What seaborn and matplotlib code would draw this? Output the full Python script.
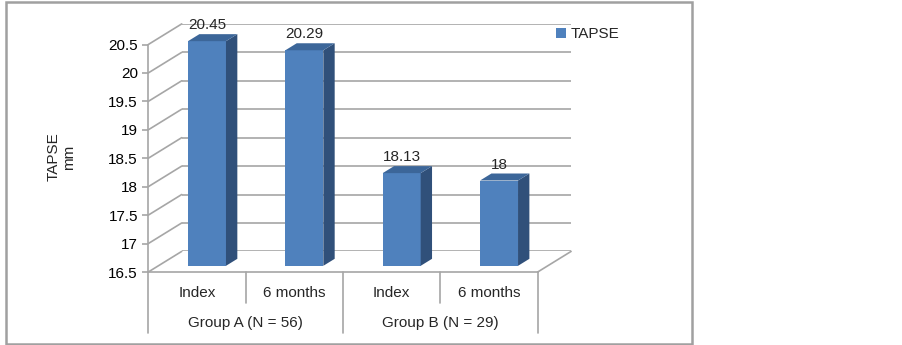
import numpy as np
import pandas as pd
import matplotlib
matplotlib.use("Agg")
import matplotlib.pyplot as plt
import matplotlib.transforms as mtransforms
from matplotlib.patches import Polygon, Rectangle, Patch
from matplotlib.lines import Line2D
import seaborn as sns

# ---- data ----
groups = ["Group A (N = 56)", "Group A (N = 56)", "Group B (N = 29)", "Group B (N = 29)"]
timepoints = ["Index", "6 months", "Index", "6 months"]
tapse = [20.45, 20.29, 18.13, 18.0]
value_labels = ["20.45", "20.29", "18.13", "18"]
group_names = ["Group A (N = 56)", "Group B (N = 29)"]
y_ticks = [16.5, 17, 17.5, 18, 18.5, 19, 19.5, 20, 20.5]
series_name = "TAPSE"
y_label = "TAPSE\nmm"

sns.set_theme(style="white")
plt.rcParams["font.family"] = ["Liberation Sans", "DejaVu Sans"]

FW, FH, DPI = 903, 345, 100
fig = plt.figure(figsize=(FW / DPI, FH / DPI), dpi=DPI)

FRONT, SIDE, TOP = "#4F81BD", "#30507A", "#3C6699"
GRID = "#a6a6a6"
FS = 11

# front plane geometry (pixels)
L, W = 148.3, 389.4
YB, H = 272.0, 227.5
left = L / FW
bottom = (FH - YB) / FH
w = W / FW
h = H / FH

# back wall offset and bar plane offset (pixels)
BDX, BDY = 33.4, 20.6
BAR_FR = 0.30
BAR_DEPTH = 0.34

ylim = (y_ticks[0], y_ticks[-1])
xlim = (-0.5, len(tapse) - 0.5)

# back wall with gridlines
ax_back = fig.add_axes([left + BDX / FW, bottom + BDY / FH, w, h])
ax_back.set_xlim(xlim); ax_back.set_ylim(ylim)
for v in y_ticks:
    ax_back.axhline(v, color=GRID, lw=1.2)
ax_back.axis("off")

# front axes (ticks and categories)
ax = fig.add_axes([left, bottom, w, h])
ax.set_xlim(xlim); ax.set_ylim(ylim)
ax.patch.set_alpha(0)
for s in ["top", "right"]:
    ax.spines[s].set_visible(False)
for s in ["left", "bottom"]:
    ax.spines[s].set_color(GRID)
    ax.spines[s].set_linewidth(1.2)
ax.set_yticks(y_ticks)
ax.set_yticklabels([f"{v:g}" for v in y_ticks])
ax.tick_params(axis="y", left=True, length=4, width=1.2, color=GRID, pad=3.5,
               labelsize=FS, labelcolor="black")
ax.set_xticks([])

# left wall diagonals
for v in y_ticks:
    p0 = ax.transData.transform((xlim[0], v))
    p1 = p0 + np.array([BDX, BDY])
    fig.add_artist(Line2D([p0[0], p1[0]], [p0[1], p1[1]], transform=None,
                          color=GRID, lw=1.2))
# right floor diagonal
p0 = ax.transData.transform((xlim[1], ylim[0]))
p1 = p0 + np.array([BDX, BDY])
fig.add_artist(Line2D([p0[0], p1[0]], [p0[1], p1[1]], transform=None, color=GRID, lw=1.2))

# category axis below
trans = mtransforms.blended_transform_factory(ax.transData, ax.transAxes)
y_sub_end = -(303 - YB) / H
y_grp_end = -(333 - YB) / H
y_sub_txt = -(293 - YB) / H
y_grp_txt = -(323 - YB) / H
for i in range(len(tapse) + 1):
    xb = i - 0.5
    yend = y_grp_end if i % 2 == 0 else y_sub_end
    ax.add_line(Line2D([xb, xb], [0, yend], transform=trans, color=GRID, lw=1.2, clip_on=False))
for i, t in enumerate(timepoints):
    ax.text(i, y_sub_txt, t, transform=trans, ha="center", va="center", fontsize=FS)
for j, g in enumerate(group_names):
    ax.text(2 * j + 0.5, y_grp_txt, g, transform=trans, ha="center", va="center", fontsize=FS)

# bar plane
ax_bar = fig.add_axes([left + BAR_FR * BDX / FW, bottom + BAR_FR * BDY / FH, w, h])
df = pd.DataFrame({"key": [f"{g} {t}" for g, t in zip(groups, timepoints)], "TAPSE": tapse})
sns.barplot(data=df, x="key", y="TAPSE", ax=ax_bar, color=FRONT, saturation=1,
            width=0.39, edgecolor="none", linewidth=0)
ax_bar.set_xlim(xlim); ax_bar.set_ylim(ylim)
ax_bar.axis("off")

ddx_d = BAR_DEPTH * BDX * (xlim[1] - xlim[0]) / W
ddy_d = BAR_DEPTH * BDY * (ylim[1] - ylim[0]) / H
for p, lab in zip(ax_bar.patches, value_labels):
    x0 = p.get_x(); x1 = x0 + p.get_width(); top = p.get_y() + p.get_height()
    y0 = ylim[0]
    side = Polygon([(x1, y0), (x1 + ddx_d, y0 + ddy_d), (x1 + ddx_d, top + ddy_d), (x1, top)],
                   closed=True, facecolor=SIDE, edgecolor="none", clip_on=False)
    topf = Polygon([(x0, top), (x1, top), (x1 + ddx_d, top + ddy_d), (x0 + ddx_d, top + ddy_d)],
                   closed=True, facecolor=TOP, edgecolor="none", clip_on=False)
    ax_bar.add_patch(side); ax_bar.add_patch(topf)
    ax_bar.annotate(lab, (x0 + p.get_width() / 2, top), xytext=(0, 16),
                    textcoords="offset pixels", ha="center", va="center", fontsize=FS,
                    annotation_clip=False)

# y label
fig.text(61 / FW, 1 - 157 / FH, y_label, rotation=90, ha="center", va="center",
         fontsize=FS, linespacing=1.1)

# legend
ax_bar.legend(handles=[Patch(facecolor=FRONT, edgecolor="none", label=series_name)],
              loc="center left", bbox_to_anchor=(556 / FW, 1 - 34.5 / FH),
              bbox_transform=fig.transFigure, frameon=False, fontsize=FS,
              handlelength=0.65, handleheight=0.65, handletextpad=0.3,
              borderpad=0, borderaxespad=0)

# outer border
fig.add_artist(Rectangle((6.5 / FW, 1.5 / FH), (692 - 6.5) / FW, (343 - 1.5) / FH,
                         transform=fig.transFigure, fill=False, edgecolor="#a0a0a0", lw=1.8))

fig.savefig("out.png", dpi=DPI)
